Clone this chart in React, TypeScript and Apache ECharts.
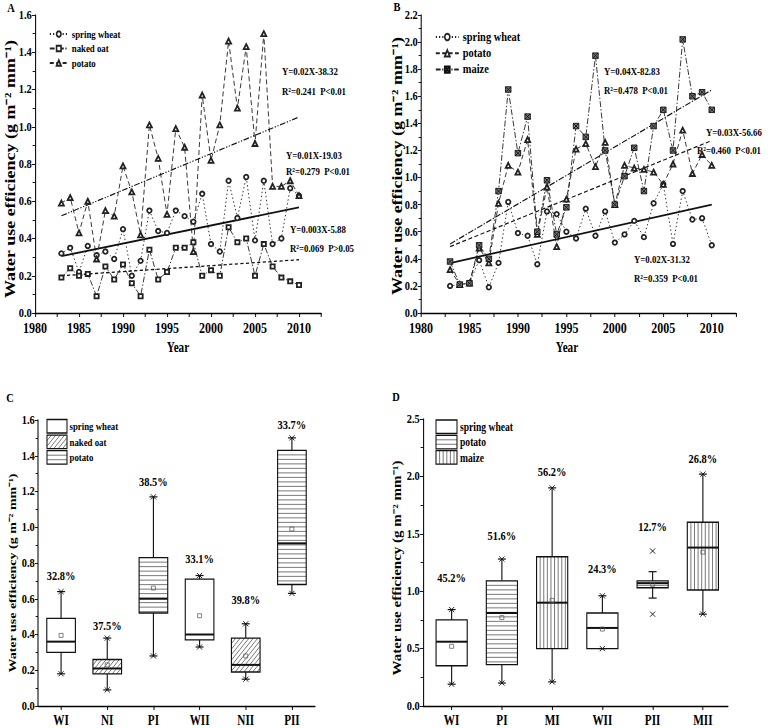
import React, { useEffect, useRef } from 'react';
import * as echarts from 'echarts';

const FONT = '"Liberation Serif", "Times New Roman", serif';

// ---------- Panel A / B data ----------
const years = [1983, 1984, 1985, 1986, 1987, 1988, 1989, 1990, 1991, 1992, 1993, 1994, 1995, 1996, 1997, 1998, 1999, 2000, 2001, 2002, 2003, 2004, 2005, 2006, 2007, 2008, 2009, 2010];

const aSpringWheat = [0.32, 0.35, 0.22, 0.36, 0.31, 0.33, 0.29, 0.45, 0.20, 0.28, 0.55, 0.44, 0.43, 0.55, 0.52, 0.49, 0.64, 0.37, 0.33, 0.71, 0.51, 0.73, 0.39, 0.71, 0.37, 0.40, 0.67, 0.63];
const aNakedOat = [0.19, 0.24, 0.20, 0.21, 0.09, 0.25, 0.18, 0.26, 0.16, 0.09, 0.34, 0.18, 0.22, 0.35, 0.35, 0.38, 0.20, 0.23, 0.20, 0.46, 0.38, 0.40, 0.20, 0.37, 0.25, 0.19, 0.17, 0.15];
const aPotato = [0.59, 0.62, 0.43, 0.60, 0.29, 0.55, 0.52, 0.79, 0.65, 0.42, 1.01, 0.83, 0.53, 0.99, 0.89, 0.33, 1.17, 0.82, 1.01, 1.46, 1.10, 1.43, 0.91, 1.50, 0.68, 0.68, 0.71, 0.63];

const bSpringWheat = [0.20, 0.21, 0.22, 0.39, 0.19, 0.37, 0.82, 0.59, 0.57, 0.36, 0.75, 0.73, 0.60, 0.55, 0.77, 0.57, 0.75, 0.52, 0.58, 0.68, 0.56, 0.81, 0.95, 0.51, 0.90, 0.69, 0.70, 0.50];
const bPotato = [0.32, 0.21, 0.22, 0.48, 0.37, 0.81, 1.09, 1.04, 1.28, 0.58, 0.93, 0.49, 0.84, 1.21, 1.25, 1.08, 1.26, 0.80, 1.09, 1.07, 1.06, 1.04, 0.95, 1.10, 1.35, 1.03, 1.17, 1.09];
const bMaize = [0.38, 0.21, 0.22, 0.50, 0.40, 0.90, 1.65, 1.18, 1.45, 0.60, 0.98, 0.58, 0.78, 1.38, 1.30, 1.90, 1.20, 0.80, 1.01, 1.22, 0.90, 1.38, 1.50, 1.20, 2.02, 1.60, 1.63, 1.50];

// fitted trend lines (start / end of the drawn regression segments)
const trendYears = [1983, 2010];
const aTrendPotato = [0.522, 1.052];
const aTrendSpringWheat = [0.305, 0.567];
const aTrendNakedOat = [0.20, 0.286];
const bTrendMaize = [0.51, 1.647];
const bTrendPotato = [0.49, 1.273];
const bTrendSpringWheat = [0.369, 0.80];

const aEquations = ['Y=0.02X-38.32', 'R²=0.241  P<0.01', 'Y=0.01X-19.03', 'R²=0.279  P<0.01', 'Y=0.003X-5.88', 'R²=0.069  P>0.05'];
const bEquations = ['Y=0.04X-82.83', 'R²=0.478  P<0.01', 'Y=0.03X-56.66', 'R²=0.460  P<0.01', 'Y=0.02X-31.32', 'R²=0.359  P<0.01'];

// ---------- Panel C data ----------
const cCategories = ['WI', 'NI', 'PI', 'WII', 'NII', 'PII'];
const cPatterns = ['none', 'diag', 'horiz', 'none', 'diag', 'horiz'];
const cMin = [0.18, 0.09, 0.28, 0.33, 0.15, 0.63];
const cWhiskerLow = [0.18, 0.09, 0.28, 0.33, 0.15, 0.63];
const cQ1 = [0.30, 0.18, 0.52, 0.37, 0.19, 0.68];
const cMedian = [0.36, 0.21, 0.60, 0.40, 0.23, 0.91];
const cQ3 = [0.49, 0.26, 0.83, 0.71, 0.38, 1.43];
const cWhiskerHigh = [0.64, 0.38, 1.17, 0.73, 0.46, 1.50];
const cMax = [0.64, 0.38, 1.17, 0.73, 0.46, 1.50];
const cMean = [0.395, 0.23, 0.66, 0.505, 0.28, 0.99];
const cCV = ['32.8%', '37.5%', '38.5%', '33.1%', '39.8%', '33.7%'];
const cCVLabelAt = [0.725, 0.447, 1.25, 0.82, 0.59, 1.57];
const cLegendNames = ['spring wheat', 'naked oat', 'potato'];
const cLegendPatterns = ['none', 'diag', 'horiz'];

// ---------- Panel D data ----------
const dCategories = ['WI', 'PI', 'MI', 'WII', 'PII', 'MII'];
const dPatterns = ['none', 'horiz', 'vert', 'none', 'horiz', 'vert'];
const dMin = [0.19, 0.20, 0.21, 0.50, 0.80, 0.80];
const dWhiskerLow = [0.19, 0.20, 0.21, 0.50, 0.94, 0.80];
const dQ1 = [0.35, 0.36, 0.50, 0.50, 1.03, 1.01];
const dMedian = [0.56, 0.81, 0.90, 0.68, 1.07, 1.38];
const dQ3 = [0.75, 1.09, 1.30, 0.81, 1.09, 1.60];
const dWhiskerHigh = [0.84, 1.28, 1.90, 0.96, 1.17, 2.02];
const dMax = [0.84, 1.28, 1.90, 0.96, 1.35, 2.02];
const dMean = [0.52, 0.77, 0.92, 0.67, 1.06, 1.34];
const dCV = ['45.2%', '51.6%', '56.2%', '24.3%', '12.7%', '26.8%'];
const dCVLabelAt = [1.11, 1.48, 2.04, 1.19, 1.56, 2.15];
const dLegendNames = ['spring wheat', 'potato', 'maize'];
const dLegendPatterns = ['none', 'horiz', 'vert'];

const yTitle = 'Water use efficiency (g m⁻² mm⁻¹)';

// ---------- layout: the figure is drawn on a wider canvas and condensed horizontally ----------
const S = 0.8;
const W = 772 / S;
const X = (px: number) => px / S;

// ---------- helpers ----------
const pair = (xs: number[], ys: number[]) => xs.map((x, i) => [x, ys[i]]);
const bf = (size: number) => `bold ${size}px ${FONT}`;

function hatch(kind: string, x0: number, y0: number, x1: number, y1: number) {
  const out: any[] = [];
  const ln = (a: number, b: number, c: number, d: number) =>
    out.push({ type: 'line', silent: true, shape: { x1: a, y1: b, x2: c, y2: d }, style: { stroke: '#444', lineWidth: 0.8 } });
  if (kind === 'horiz') {
    for (let y = y0 + 4.5; y < y1 - 0.8; y += 4.5) ln(x0, y, x1, y);
  } else if (kind === 'vert') {
    for (let x = x0 + 4.5; x < x1 - 1; x += 4.5) ln(x, y0, x, y1);
  } else if (kind === 'diag') {
    for (let c = x0 + y0 + 5.5; c < x1 + y1; c += 5.5) {
      const xa = Math.max(x0, c - y1);
      const xb = Math.min(x1, c - y0);
      if (xb - xa > 0.6) ln(xa, c - xa, xb, c - xb);
    }
  }
  return out;
}

function boxRender(patterns: string[], cvTexts: string[]) {
  return (params: any, api: any) => {
    const i = params.dataIndex;
    const x = api.value(0);
    const Y = (k: number) => api.coord([x, api.value(k)])[1];
    const cx = api.coord([x, 0])[0];
    const bw = api.size([1, 0])[0] * 0.62;
    const x0 = cx - bw / 2;
    const x1 = cx + bw / 2;
    const yMin = Y(1), yWL = Y(2), yQ1 = Y(3), yMed = Y(4), yQ3 = Y(5), yWH = Y(6), yMax = Y(7), yMean = Y(8), yCv = Y(9);
    const ch: any[] = [];
    const ln = (a: number, b: number, c: number, d: number, w = 1.2) =>
      ch.push({ type: 'line', shape: { x1: a, y1: b, x2: c, y2: d }, style: { stroke: '#111', lineWidth: w } });
    if (yWH < yQ3 - 0.5) ln(cx, yQ3, cx, yWH, 1.4);
    if (yWL > yQ1 + 0.5) ln(cx, yQ1, cx, yWL, 1.4);
    const cap = X(4);
    ln(cx - cap, yWH, cx + cap, yWH);
    ln(cx - cap, yWL, cx + cap, yWL);
    ch.push({ type: 'rect', shape: { x: x0, y: yQ3, width: bw, height: yQ1 - yQ3 }, style: { fill: '#fff', stroke: 'none' } });
    ch.push(...hatch(patterns[i], x0, yQ3, x1, yQ1));
    ch.push({ type: 'rect', shape: { x: x0, y: yQ3, width: bw, height: yQ1 - yQ3 }, style: { fill: 'none', stroke: '#111', lineWidth: 1.4 } });
    ln(x0, yMed, x1, yMed, 2);
    const sx = X(2.6), sy = 2.6;
    [yMin, yMax].forEach((yy) => {
      ln(cx - sx, yy - sy, cx + sx, yy + sy, 1);
      ln(cx - sx, yy + sy, cx + sx, yy - sy, 1);
    });
    ch.push({ type: 'rect', shape: { x: cx - X(2), y: yMean - 2, width: X(4), height: 4 }, style: { fill: 'none', stroke: '#555', lineWidth: 0.8 } });
    ch.push({
      type: 'text',
      style: { text: cvTexts[i], x: cx, y: yCv, font: bf(13), fill: '#000', textAlign: 'center', align: 'center', textVerticalAlign: 'middle', verticalAlign: 'middle' },
    });
    return { type: 'group', children: ch };
  };
}

const txt = (x: number, y: number, text: string, size: number, align = 'left', rotation = 0) => ({
  type: 'text',
  x: X(x),
  y,
  rotation,
  silent: true,
  style: { text, font: bf(size), fill: '#000', textAlign: align, align, textVerticalAlign: 'middle', verticalAlign: 'middle' },
});

function swatches(names: string[], patterns: string[], x: number, y: number, w: number, h: number, step: number, textX: number, size: number) {
  const els: any[] = [];
  names.forEach((n, k) => {
    const yy = y + k * step;
    const rx = X(x), rw = X(w);
    els.push({ type: 'rect', silent: true, shape: { x: rx, y: yy, width: rw, height: h }, style: { fill: '#fff', stroke: 'none' } });
    els.push(...hatch(patterns[k], rx, yy, rx + rw, yy + h));
    els.push({ type: 'rect', silent: true, shape: { x: rx, y: yy, width: rw, height: h }, style: { fill: 'none', stroke: '#111', lineWidth: 1.3 } });
    els.push(txt(textX, yy + h / 2, n, size));
  });
  return els;
}

const axisText = (size: number) => ({ fontSize: size, fontWeight: 'bold', fontFamily: FONT, color: '#000' });
const axisLine = { show: true, onZero: false, lineStyle: { color: '#000', width: 1.3 } };

function yearAxis(gi: number, size: number) {
  return {
    gridIndex: gi, type: 'value', min: 1980, max: 2012.5, interval: 2.5,
    axisLine, axisTick: { show: true, length: 4, lineStyle: { color: '#000', width: 1.2 } },
    axisLabel: { ...axisText(size), margin: 8, formatter: (v: number) => (v % 5 === 0 ? String(v) : '') },
    splitLine: { show: false },
  };
}
function valAxis(gi: number, max: number, interval: number, size: number) {
  return {
    gridIndex: gi, type: 'value', min: 0, max, interval,
    axisLine, axisTick: { show: true, length: 4, lineStyle: { color: '#000' } },
    minorTick: { show: true, splitNumber: 2, length: 3, lineStyle: { color: '#000' } },
    axisLabel: { ...axisText(size), margin: 4, formatter: (v: number) => v.toFixed(1) },
    splitLine: { show: false },
  };
}
function catAxis(gi: number, min: number, cats: string[]) {
  const vals = cats.map((_, i) => i + 1);
  return {
    gridIndex: gi, type: 'value', min, max: 6.5,
    axisLine, axisTick: { show: true, length: 4, customValues: vals, lineStyle: { color: '#000', width: 1.2 } },
    axisLabel: { ...axisText(14), margin: 8, customValues: vals, formatter: (v: number) => cats[Math.round(v) - 1] || '' },
    splitLine: { show: false },
  };
}

const ink = '#222';
const lineSeries = (name: string, gi: number, ys: number[], symbol: string, size: number, type: any, fill = '') => ({
  type: 'line', name, xAxisIndex: gi, yAxisIndex: gi, data: pair(years, ys),
  symbol, symbolSize: [X(size), size], showSymbol: true,
  lineStyle: { color: ink, width: 1, type },
  itemStyle: fill ? { color: fill, borderColor: '#111', borderWidth: 1 } : { color: ink, borderWidth: 1 },
  emphasis: { disabled: true },
});
const trendSeries = (name: string, gi: number, ys: number[], type: any, width: number) => ({
  type: 'line', name, xAxisIndex: gi, yAxisIndex: gi, data: pair(trendYears, ys),
  symbol: 'none', lineStyle: { color: '#111', width, type }, silent: true, z: 3,
});

const maizeSymbol = 'path://M0,0L10,0L10,10L0,10Z M0,0L10,10 M10,0L0,10';

const option: any = {
  animation: false,
  backgroundColor: '#fff',
  grid: [
    { left: X(35), top: 15, width: X(286), height: 298 },
    { left: X(421), top: 15, width: X(315), height: 298 },
    { left: X(38), top: 420, width: X(277), height: 287 },
    { left: X(423), top: 419, width: X(305), height: 287 },
  ],
  xAxis: [yearAxis(0, 15), yearAxis(1, 15), catAxis(2, 0.5, cCategories), catAxis(3, 0.43, dCategories)],
  yAxis: [valAxis(0, 1.6, 0.2, 13), valAxis(1, 2.2, 0.2, 13), valAxis(2, 1.6, 0.2, 13), valAxis(3, 2.5, 0.5, 13)],
  legend: [
    {
      data: ['spring wheat', 'naked oat', 'potato'], orient: 'vertical', left: X(45), top: 23.5,
      itemWidth: X(18), itemHeight: 7, itemGap: 3.5, selectedMode: false,
      textStyle: { fontSize: 11, lineHeight: 11, fontWeight: 'bold', fontFamily: FONT, color: '#000' },
    },
    {
      data: ['spring wheat', 'potato', 'maize'], orient: 'vertical', left: X(431), top: 25.5,
      itemWidth: X(23), itemHeight: 8, itemGap: 3.3, selectedMode: false,
      textStyle: { fontSize: 13, lineHeight: 13, fontWeight: 'bold', fontFamily: FONT, color: '#000' },
    },
  ],
  series: [
    lineSeries('spring wheat', 0, aSpringWheat, 'emptyCircle', 4.5, [1.5, 2.5]),
    lineSeries('naked oat', 0, aNakedOat, 'emptyRect', 4.2, [6, 2, 1.5, 2]),
    lineSeries('potato', 0, aPotato, 'emptyTriangle', 5, [5, 3]),
    trendSeries('potato fit A', 0, aTrendPotato, [7, 2, 1.5, 2, 1.5, 2], 1.2),
    trendSeries('spring wheat fit A', 0, aTrendSpringWheat, 'solid', 1.8),
    trendSeries('naked oat fit A', 0, aTrendNakedOat, [4, 3], 1.3),

    lineSeries('spring wheat', 1, bSpringWheat, 'emptyCircle', 4.5, [1.5, 2.5]),
    lineSeries('potato', 1, bPotato, 'emptyTriangle', 5, [5, 3]),
    lineSeries('maize', 1, bMaize, maizeSymbol, 5.5, [6, 2, 1.5, 2], '#777'),
    trendSeries('maize fit B', 1, bTrendMaize, [7, 2, 1.5, 2], 1.2),
    trendSeries('potato fit B', 1, bTrendPotato, [5, 3], 1.2),
    trendSeries('spring wheat fit B', 1, bTrendSpringWheat, 'solid', 1.8),

    {
      type: 'custom', name: 'C boxes', xAxisIndex: 2, yAxisIndex: 2, clip: false,
      renderItem: boxRender(cPatterns, cCV),
      data: cCategories.map((_, i) => [i + 1, cMin[i], cWhiskerLow[i], cQ1[i], cMedian[i], cQ3[i], cWhiskerHigh[i], cMax[i], cMean[i], cCVLabelAt[i]]),
    },
    {
      type: 'custom', name: 'D boxes', xAxisIndex: 3, yAxisIndex: 3, clip: false,
      renderItem: boxRender(dPatterns, dCV),
      data: dCategories.map((_, i) => [i + 1, dMin[i], dWhiskerLow[i], dQ1[i], dMedian[i], dQ3[i], dWhiskerHigh[i], dMax[i], dMean[i], dCVLabelAt[i]]),
    },
  ],
  graphic: [
    txt(11, 8, 'A', 13, 'center'),
    txt(397, 7, 'B', 13, 'center'),
    txt(10, 398, 'C', 13, 'center'),
    txt(396, 397, 'D', 13, 'center'),
    txt(10.5, 169, yTitle, 18, 'center', Math.PI / 2),
    txt(397.5, 166, yTitle, 18, 'center', Math.PI / 2),
    txt(12, 573, yTitle, 14, 'center', Math.PI / 2),
    txt(397, 568, yTitle, 15, 'center', Math.PI / 2),
    txt(178, 348, 'Year', 14, 'center'),
    txt(567, 348, 'Year', 14, 'center'),
    txt(282, 71, aEquations[0], 11),
    txt(282, 91, aEquations[1], 11),
    txt(286, 155, aEquations[2], 11),
    txt(286, 171, aEquations[3], 11),
    txt(290, 229, aEquations[4], 11),
    txt(290, 248, aEquations[5], 11),
    txt(604, 71, bEquations[0], 11),
    txt(604, 90, bEquations[1], 11),
    txt(706, 132, bEquations[2], 11),
    txt(697, 150, bEquations[3], 11),
    txt(634, 259, bEquations[4], 11),
    txt(634, 278, bEquations[5], 11),
    ...swatches(cLegendNames, cLegendPatterns, 47, 419.5, 20, 13.5, 15.6, 69.5, 11),
    ...swatches(dLegendNames, dLegendPatterns, 436, 420, 21, 13.5, 15.3, 460, 12),
  ],
};

export default function App() {
  const ref = useRef<HTMLDivElement>(null);
  useEffect(() => {
    document.body.style.margin = '0';
    const chart = echarts.init(ref.current as HTMLDivElement, null, { renderer: 'svg' });
    chart.setOption(option);
    return () => chart.dispose();
  }, []);
  return (
    <div style={{ width: 772, height: 728, overflow: 'hidden', position: 'relative', background: '#fff' }}>
      <div ref={ref} style={{ width: W, height: 728, transform: `scaleX(${S})`, transformOrigin: '0 0' }} />
    </div>
  );
}
